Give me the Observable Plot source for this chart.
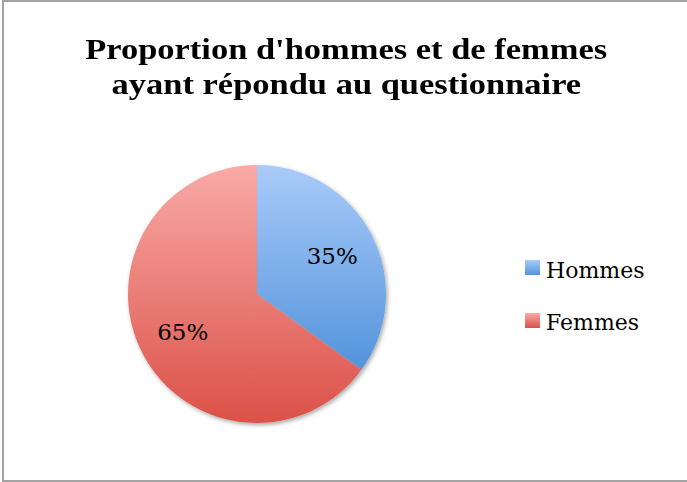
<!DOCTYPE html>
<html><head><meta charset="utf-8">
<script src="https://cdn.jsdelivr.net/npm/d3@7"></script>
<script src="https://cdn.jsdelivr.net/npm/@observablehq/plot@0.6"></script>
<style>
body{margin:0;background:#fff;overflow:hidden}
#frame{position:absolute;left:2px;top:0;width:720px;height:482px;box-sizing:border-box;border:2px solid #a3a3a3;border-right:none;background:#fff}
#title{position:absolute;left:0;top:28.7px;width:684px;text-align:center;font-family:"Liberation Serif",serif;font-weight:bold;font-size:30px;line-height:35px;color:#000;white-space:nowrap}
#title span{display:inline-block;transform-origin:50% 50%}
#chart{position:absolute;left:0;top:128px}
.lg-sw{position:absolute;width:15px;height:15px}
.lg-tx{position:absolute;font-family:"DejaVu Serif",serif;font-size:22px;line-height:normal;color:#000;white-space:nowrap}
</style>
</head><body>
<div id="frame">
  <div id="title"><span id="t1">Proportion d'hommes et de femmes</span><br><span id="t2">ayant répondu au questionnaire</span></div>
  <div id="chart"></div>
  <div id="legend"></div>
</div>
<script>
const categories = ["Hommes", "Femmes"];
const values = [35, 65];
const labels = ["35%", "65%"];
const topColors = ["#a9cbf9", "#f9aaa7"];
const bottomColors = ["#5393db", "#db5148"];

const data = categories.map((c, i) => ({category: c, value: values[i], label: labels[i], i}));
const pieData = d3.pie().sort(null).value(d => d.value)(data);
const labelR = 0.65;
const labelData = pieData.map(p => {
  const a = (p.startAngle + p.endAngle) / 2;
  return {label: p.data.label, x: labelR * Math.sin(a), y: labelR * Math.cos(a)};
});

function pieMark(index, scales) {
  const cx = scales.x(0), cy = scales.y(0), r = scales.x(1) - scales.x(0);
  const g = d3.create("svg:g");
  const defs = g.append("defs");
  const f = defs.append("filter").attr("id", "pieShadow").attr("x", "-10%").attr("y", "-10%").attr("width", "125%").attr("height", "125%");
  f.append("feDropShadow").attr("dx", 1.5).attr("dy", 2).attr("stdDeviation", 2)
    .attr("flood-color", "#000").attr("flood-opacity", 0.35);
  pieData.forEach((p, k) => {
    const lg = defs.append("linearGradient").attr("id", "sliceGrad" + k)
      .attr("x1", 0).attr("y1", 0).attr("x2", 0).attr("y2", 1);
    lg.append("stop").attr("offset", "0%").attr("stop-color", topColors[k]);
    lg.append("stop").attr("offset", "100%").attr("stop-color", bottomColors[k]);
  });
  const arc = d3.arc().innerRadius(0).outerRadius(r);
  g.append("g").attr("transform", `translate(${cx},${cy})`).attr("filter", "url(#pieShadow)")
    .selectAll("path").data(pieData).join("path")
    .attr("d", arc)
    .attr("fill", (d, k) => `url(#sliceGrad${k})`);
  return g.node();
}

const plot = Plot.plot({
  width: 500,
  height: 330,
  marginLeft: 124,
  marginRight: 118,
  marginTop: 35,
  marginBottom: 37,
  x: {domain: [-1, 1], axis: null},
  y: {domain: [-1, 1], axis: null},
  marks: [
    pieMark,
    Plot.text(labelData, {x: "x", y: "y", text: "label", fontSize: 23, fontFamily: "DejaVu Serif", fill: "#000"})
  ]
});
document.getElementById("chart").appendChild(plot);

// fit title width to reference (line 1 ≈ 522px wide)
const t1 = document.getElementById("t1"), t2 = document.getElementById("t2");
const s = 522 / t1.getBoundingClientRect().width;
t1.style.transform = `scaleX(${s})`;
t2.style.transform = `scaleX(${s})`;

// legend
const legend = document.getElementById("legend");
categories.forEach((c, k) => {
  const sw = document.createElement("div");
  sw.className = "lg-sw";
  sw.style.left = "521px";
  sw.style.top = (258 + k * 52.6) + "px";
  sw.style.background = `linear-gradient(${topColors[k]}, ${bottomColors[k]})`;
  legend.appendChild(sw);
  const tx = document.createElement("div");
  tx.className = "lg-tx";
  tx.style.left = "542px";
  tx.style.top = (255.6 + k * 52.6) + "px";
  tx.textContent = c;
  legend.appendChild(tx);
});
</script>
</body></html>
